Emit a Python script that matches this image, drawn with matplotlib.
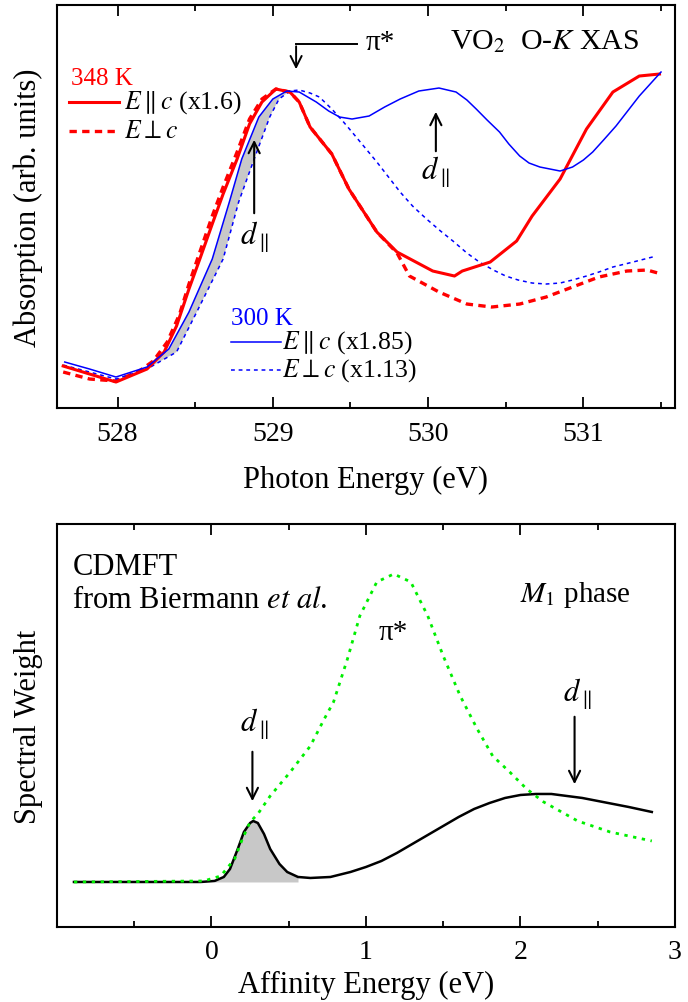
import numpy as np
import matplotlib
matplotlib.use("Agg")
import matplotlib.pyplot as plt
from matplotlib.ticker import MultipleLocator

plt.rcParams['font.family'] = ['Liberation Serif', 'DejaVu Serif']
plt.rcParams['mathtext.fontset'] = 'stix'

# --- Top panel: O-K XAS (photon energy in eV, absorption in arb. units) ---
red_par_E = [527.65, 527.82, 527.99, 528.19, 528.30, 528.38, 528.46, 528.53, 528.61, 528.68,
             528.77, 528.85, 528.93, 529.02, 529.11, 529.17, 529.24, 529.38, 529.49, 529.67,
             529.80, 530.03, 530.17, 530.22, 530.40, 530.57, 530.67, 530.85, 531.02, 531.19,
             531.36, 531.49]
red_par_A = [0.42, 0.34, 0.26, 0.39, 0.56, 0.82, 1.19, 1.49, 1.84, 2.14,
             2.49, 2.84, 3.06, 3.19, 3.16, 3.06, 2.81, 2.54, 2.19, 1.76,
             1.56, 1.37, 1.32, 1.37, 1.46, 1.67, 1.92, 2.29, 2.79, 3.16,
             3.32, 3.34]

red_perp_E = [527.65, 527.82, 527.99, 528.14, 528.23, 528.32, 528.40, 528.46, 528.53, 528.61,
              528.68, 528.77, 528.85, 528.93, 529.02, 529.11, 529.17, 529.24, 529.38, 529.49,
              529.67, 529.80, 529.88, 530.07, 530.25, 530.41, 530.59, 530.76, 530.93, 531.10,
              531.28, 531.41, 531.48]
red_perp_A = [0.36, 0.29, 0.27, 0.37, 0.47, 0.66, 0.94, 1.24, 1.56, 1.92,
              2.21, 2.56, 2.89, 3.09, 3.19, 3.16, 3.06, 2.81, 2.54, 2.19,
              1.76, 1.55, 1.32, 1.16, 1.04, 1.01, 1.04, 1.11, 1.21, 1.31,
              1.37, 1.38, 1.35]

blue_par_E = [527.66, 527.82, 527.99, 528.19, 528.33, 528.46, 528.61, 528.72, 528.80, 528.91,
              529.00, 529.09, 529.17, 529.28, 529.36, 529.43, 529.51, 529.62, 529.72, 529.82,
              529.94, 530.07, 530.18, 530.25, 530.31, 530.38, 530.46, 530.52, 530.59, 530.65,
              530.72, 530.85, 530.93, 531.00, 531.06, 531.13, 531.21, 531.28, 531.36, 531.43,
              531.50]
blue_par_A = [0.46, 0.39, 0.31, 0.41, 0.59, 0.96, 1.49, 2.06, 2.49, 2.91,
              3.09, 3.17, 3.16, 3.06, 2.97, 2.91, 2.89, 2.92, 3.01, 3.09,
              3.17, 3.20, 3.16, 3.08, 2.99, 2.88, 2.76, 2.64, 2.52, 2.45,
              2.41, 2.37, 2.41, 2.48, 2.56, 2.68, 2.82, 2.96, 3.12, 3.24,
              3.36]

blue_perp_E = [527.65, 527.82, 527.99, 528.19, 528.38, 528.51, 528.68, 528.78, 528.88, 528.98,
               529.04, 529.11, 529.17, 529.24, 529.30, 529.38, 529.45, 529.51, 529.59, 529.67,
               529.75, 529.82, 529.90, 529.99, 530.08, 530.16, 530.25, 530.33, 530.42, 530.50,
               530.58, 530.67, 530.76, 530.85, 530.93, 531.02, 531.10, 531.19, 531.32, 531.47]
blue_perp_A = [0.43, 0.36, 0.29, 0.39, 0.56, 0.96, 1.49, 2.06, 2.49, 2.91,
               3.09, 3.17, 3.18, 3.15, 3.11, 2.99, 2.87, 2.76, 2.61, 2.46,
               2.30, 2.16, 2.02, 1.89, 1.77, 1.67, 1.55, 1.46, 1.38, 1.32,
               1.28, 1.25, 1.24, 1.25, 1.28, 1.32, 1.36, 1.41, 1.46, 1.52]

SHADE_TOP = (528.19, 529.11)  # shaded d_par region between the 300 K curves

# --- Bottom panel: CDMFT spectral weight vs affinity energy (eV) ---
dpar_E = [-0.89, -0.07, 0.02, 0.08, 0.12, 0.17, 0.21, 0.25, 0.27, 0.30,
          0.34, 0.38, 0.44, 0.49, 0.56, 0.64, 0.77, 0.90, 1.00, 1.10,
          1.20, 1.30, 1.40, 1.50, 1.60, 1.70, 1.80, 1.90, 2.00, 2.10,
          2.20, 2.30, 2.40, 2.50, 2.60, 2.70, 2.85]
dpar_W = [0.45, 0.45, 0.46, 0.50, 0.58, 0.78, 0.95, 1.04, 1.06, 1.04,
          0.93, 0.78, 0.63, 0.55, 0.50, 0.49, 0.50, 0.55, 0.60, 0.66,
          0.74, 0.83, 0.92, 1.01, 1.10, 1.18, 1.24, 1.29, 1.32, 1.33,
          1.33, 1.31, 1.29, 1.26, 1.23, 1.20, 1.15]

pi_E = [-0.89, -0.05, 0.06, 0.15, 0.20, 0.25, 0.30, 0.38, 0.51, 0.64,
        0.73, 0.79, 0.88, 0.96, 1.07, 1.18, 1.29, 1.40, 1.50, 1.61,
        1.72, 1.82, 1.93, 2.04, 2.15, 2.37, 2.58, 2.85]
pi_W = [0.45, 0.46, 0.51, 0.68, 0.88, 1.05, 1.13, 1.31, 1.55, 1.81,
        2.08, 2.25, 2.68, 3.11, 3.45, 3.53, 3.45, 3.11, 2.71, 2.31,
        1.98, 1.71, 1.55, 1.38, 1.25, 1.06, 0.95, 0.86]

SHADE_BOT = (0.02, 0.56)
BASELINE = 0.45

RED = '#ff0000'
BLUE = '#0000ff'
GREEN = '#00ee00'
GRAY = '#c8c8c8'

fig = plt.figure(figsize=(6.88, 10.03), dpi=100)
ax1 = fig.add_axes([0.0828, 0.5922, 0.8983, 0.4018])
ax2 = fig.add_axes([0.0828, 0.0748, 0.8983, 0.4018])


def style_axes(ax):
    for s in ax.spines.values():
        s.set_linewidth(1.5)
    ax.tick_params(axis='x', which='both', direction='in', top=True, bottom=True,
                   labelsize=20, width=1.3, pad=9)
    ax.tick_params(axis='x', which='major', length=8)
    ax.tick_params(axis='x', which='minor', length=4)
    ax.tick_params(axis='y', which='both', left=False, labelleft=False)


# ---- top panel ----
bx = np.array(blue_par_E); by = np.array(blue_par_A)
px = np.array(blue_perp_E); py = np.array(blue_perp_A)
m1 = (bx >= SHADE_TOP[0]) & (bx <= SHADE_TOP[1])
m2 = (px >= SHADE_TOP[0]) & (px <= SHADE_TOP[1])
ax1.fill(np.concatenate([bx[m1], px[m2][::-1]]), np.concatenate([by[m1], py[m2][::-1]]),
         color=GRAY, lw=0, zorder=1)

ax1.plot(red_perp_E, red_perp_A, color=RED, lw=2.4, ls=(0, (2.2, 1.6)), zorder=3)
ax1.plot(red_par_E, red_par_A, color=RED, lw=2.2, zorder=4)
ax1.plot(blue_perp_E, blue_perp_A, color=BLUE, lw=1.1, ls=(0, (2.5, 2.5)), zorder=3)
ax1.plot(blue_par_E, blue_par_A, color=BLUE, lw=1.1, zorder=4)

ax1.set_xlim(527.61, 531.59)
ax1.set_ylim(0, 4.03)
ax1.xaxis.set_major_locator(MultipleLocator(1))
ax1.xaxis.set_minor_locator(MultipleLocator(0.5))
style_axes(ax1)
ax1.set_xlabel('Photon Energy (eV)', fontsize=22, labelpad=14)
ax1.set_ylabel('Absorption (arb. units)', fontsize=22, labelpad=10)

# legend-like labels
ax1.text(527.70, 3.24, '348 K', color=RED, fontsize=18, va='baseline')
ax1.plot([527.69, 528.01], [3.06, 3.06], color=RED, lw=2.2)
ax1.text(528.04, 3.06, r'$E\parallel c$ (x1.6)', fontsize=18.5, va='center')
ax1.plot([527.69, 528.01], [2.77, 2.77], color=RED, lw=2.4, ls=(0, (2.2, 1.6)))
ax1.text(528.04, 2.77, r'$E\perp c$', fontsize=18.5, va='center')

ax1.text(528.73, 0.84, '300 K', color=BLUE, fontsize=18, va='baseline')
ax1.plot([528.73, 529.05], [0.66, 0.66], color=BLUE, lw=1.1)
ax1.text(529.06, 0.66, r'$E\parallel c$ (x1.85)', fontsize=18.5, va='center')
ax1.plot([528.73, 529.05], [0.38, 0.38], color=BLUE, lw=1.1, ls=(0, (2.5, 2.5)))
ax1.text(529.06, 0.38, r'$E\perp c$ (x1.13)', fontsize=18.5, va='center')

ax1.text(530.14, 3.60, r'VO$_2$  O-$K$ XAS', fontsize=21.5, va='baseline')

# pi* bent arrow
ax1.plot([529.15, 529.54], [3.64, 3.64], color='black', lw=1.4)
ax1.annotate('', xy=(529.15, 3.36), xytext=(529.15, 3.645),
             arrowprops=dict(arrowstyle='->', color='black', lw=1.4, mutation_scale=20))
ax1.text(529.60, 3.66, 'π*', fontsize=21, va='center')

# d_par arrows
ax1.annotate('', xy=(528.88, 2.71), xytext=(528.88, 1.92),
             arrowprops=dict(arrowstyle='->', color='black', lw=1.5, mutation_scale=20))
ax1.text(528.88, 1.72, r'$d_{\parallel}$', fontsize=22, ha='center', va='center')
ax1.annotate('', xy=(530.05, 2.99), xytext=(530.05, 2.54),
             arrowprops=dict(arrowstyle='->', color='black', lw=1.5, mutation_scale=20))
ax1.text(530.05, 2.37, r'$d_{\parallel}$', fontsize=22, ha='center', va='center')

# ---- bottom panel ----
dx = np.array(dpar_E); dy = np.array(dpar_W)
ms = (dx >= SHADE_BOT[0]) & (dx <= SHADE_BOT[1])
ax2.fill_between(dx[ms], BASELINE, dy[ms], color=GRAY, lw=0, zorder=1)
ax2.plot(dpar_E, dpar_W, color='black', lw=1.8, zorder=3)
ax2.plot(pi_E, pi_W, color=GREEN, lw=2.0, ls=(0, (1.2, 2.0)), zorder=4)

ax2.set_xlim(-1, 3)
ax2.set_ylim(0, 4.03)
ax2.xaxis.set_major_locator(MultipleLocator(1))
ax2.xaxis.set_minor_locator(MultipleLocator(0.5))
ax2.set_xticks([0, 1, 2, 3])
style_axes(ax2)
ax2.set_xlabel('Affinity Energy (eV)', fontsize=22, labelpad=4)
ax2.set_ylabel('Spectral Weight', fontsize=22, labelpad=10)

ax2.text(-0.90, 3.53, 'CDMFT', fontsize=22, va='baseline')
ax2.text(-0.90, 3.20, r'from Biermann $et\ al$.', fontsize=22, va='baseline')
ax2.text(2.00, 3.26, r'$M_1$ phase', fontsize=21, va='baseline')
ax2.text(1.08, 2.88, 'π*', fontsize=21, va='baseline')

ax2.annotate('', xy=(0.265, 1.23), xytext=(0.265, 1.78),
             arrowprops=dict(arrowstyle='->', color='black', lw=1.5, mutation_scale=20))
ax2.text(0.28, 2.03, r'$d_{\parallel}$', fontsize=22, ha='center', va='center')
ax2.annotate('', xy=(2.35, 1.40), xytext=(2.35, 2.13),
             arrowprops=dict(arrowstyle='->', color='black', lw=1.5, mutation_scale=20))
ax2.text(2.37, 2.33, r'$d_{\parallel}$', fontsize=22, ha='center', va='center')

fig.savefig('out.png', dpi=100)
